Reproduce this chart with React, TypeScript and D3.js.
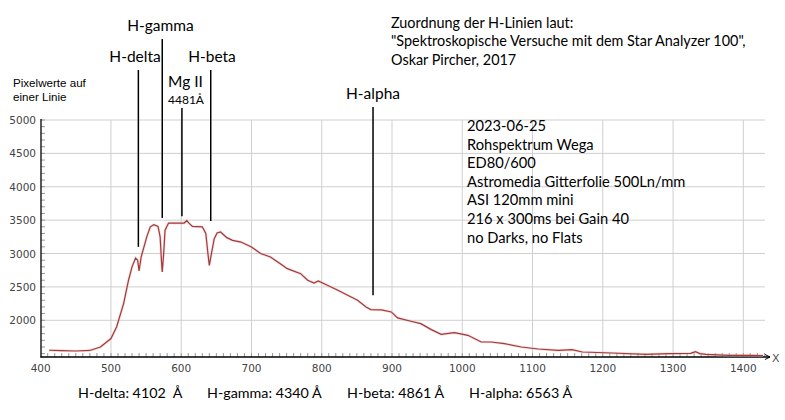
import React from "react";
import * as d3 from "d3";

const waveX = [412, 430, 450, 470, 485, 500, 508, 518, 525, 530, 535, 538, 540, 543, 547, 551, 556, 561, 567, 570, 572, 573, 575, 577, 582, 599, 604, 608, 611, 616, 630, 635, 638, 640, 643, 647, 651, 656, 665, 673, 685, 700, 713, 727, 741, 751, 770, 780, 789, 795, 808, 823, 837, 851, 863, 870, 885, 899, 908, 927, 941, 956, 970, 989, 1008, 1027, 1041, 1060, 1084, 1108, 1137, 1156, 1171, 1213, 1261, 1294, 1325, 1332, 1338, 1347, 1380, 1409, 1428];
const pixelValues = [1551, 1545, 1540, 1548, 1600, 1726, 1900, 2250, 2600, 2800, 2933, 2900, 2740, 2950, 3100, 3250, 3400, 3432, 3407, 3250, 2873, 2723, 3000, 3350, 3456, 3456, 3456, 3492, 3456, 3407, 3400, 3300, 3000, 2823, 3000, 3222, 3307, 3322, 3238, 3198, 3172, 3098, 3000, 2948, 2848, 2773, 2698, 2599, 2558, 2588, 2524, 2449, 2374, 2300, 2200, 2160, 2155, 2125, 2035, 1985, 1950, 1860, 1790, 1815, 1775, 1675, 1675, 1650, 1600, 1570, 1550, 1560, 1525, 1510, 1490, 1500, 1505, 1530, 1500, 1490, 1475, 1475, 1470];

const xTicks = [400, 500, 600, 700, 800, 900, 1000, 1100, 1200, 1300, 1400];
const yTicks = [2000, 2500, 3000, 3500, 4000, 4500, 5000];

const markerNames = ["H-delta", "H-gamma", "Mg II", "H-beta", "H-alpha"];
const markerX = [539, 573, 601, 642, 873];
const markerBottom = [3100, 3531, 3557, 3487, 2374];

const infoLines = ["2023-06-25", "Rohspektrum Wega", "ED80/600", "Astromedia Gitterfolie 500Ln/mm", "ASI 120mm mini", "216 x 300ms bei Gain 40", "no Darks, no Flats"];
const sourceLines = ["Zuordnung der H-Linien laut:", "\"Spektroskopische Versuche mit dem Star Analyzer 100\",", "Oskar Pircher, 2017"];
const bottomLabels = ["H-delta: 4102\u00a0 Å", "H-gamma: 4340 Å", "H-beta: 4861 Å", "H-alpha: 6563 Å"];

export default function App() {
  const x = d3.scaleLinear().domain([400, 1400]).range([40.7, 743.3]);
  const y = d3.scaleLinear().domain([1450, 5000]).range([357, 120]);
  const pts = waveX.map((w, i) => [w, pixelValues[i]] as [number, number]);
  const line = d3.line<[number, number]>().x(d => x(d[0])).y(d => y(d[1]));
  const minorX = d3.range(410, 1440, 10);
  const minorY = d3.range(1500, 5001, 100);
  const calibri = "Lato, Carlito, 'Open Sans', sans-serif";
  const axisFont = "'DejaVu Sans', sans-serif";

  const labelLayout = [
    { top: 70, lx: 135, ly: 62, anchor: "middle" },
    { top: 39, lx: 160.5, ly: 31, anchor: "middle" },
    { top: 108, lx: 168, ly: 87, anchor: "start" },
    { top: 70, lx: 212, ly: 62, anchor: "middle" },
    { top: 107, lx: 373, ly: 99, anchor: "middle" },
  ];
  const bottomX = [78, 207, 347, 469];

  return (
    <svg width={785} height={420} style={{ position: "absolute", left: 0, top: 0, background: "#fff" }}>
      <rect width={785} height={420} fill="#fff" />
      {xTicks.filter(t => t > 400).map(t => (
        <line key={"gx" + t} x1={x(t)} x2={x(t)} y1={120} y2={357} stroke="#cfcfcf" strokeWidth={1} />
      ))}
      {yTicks.map(t => (
        <line key={"gy" + t} x1={41} x2={765} y1={y(t)} y2={y(t)} stroke="#cfcfcf" strokeWidth={1} />
      ))}
      {minorX.map(t => (
        <line key={"mx" + t} x1={x(t)} x2={x(t)} y1={357} y2={353} stroke="#999" strokeWidth={1} />
      ))}
      {minorY.map(t => (
        <line key={"my" + t} x1={41} x2={45} y1={y(t)} y2={y(t)} stroke="#999" strokeWidth={1} />
      ))}
      <line x1={41} x2={41} y1={119} y2={357.5} stroke="#000" strokeWidth={1.3} />
      <line x1={40.5} x2={770} y1={357} y2={357} stroke="#000" strokeWidth={1.3} />
      <polyline points="765,354.5 770,357 765,359.5" fill="none" stroke="#000" strokeWidth={1} />
      <text x={772} y={361.5} fontFamily={axisFont} fontSize={11} fill="#555">X</text>
      {yTicks.map(t => (
        <text key={"yl" + t} x={36} y={y(t) + 4} textAnchor="end" fontFamily={axisFont} fontSize={10.5} fill="#444">{t}</text>
      ))}
      {xTicks.map(t => (
        <text key={"xl" + t} x={x(t)} y={372} textAnchor="middle" fontFamily={axisFont} fontSize={10.5} fill="#444">{t}</text>
      ))}
      <text x={13} y={87} fontFamily="'Liberation Sans', Arial, sans-serif" fontSize={11.6} fill="#000">Pixelwerte auf</text>
      <text x={13} y={101} fontFamily="'Liberation Sans', Arial, sans-serif" fontSize={11.6} fill="#000">einer Linie</text>
      <path d={line(pts) || ""} fill="none" stroke="#f2b8b8" strokeWidth={2.6} strokeOpacity={0.5} />
      <path d={line(pts) || ""} fill="none" stroke="#9e3b3b" strokeWidth={1.2} />
      {markerNames.map((n, i) => (
        <g key={n}>
          <line x1={x(markerX[i])} x2={x(markerX[i])} y1={labelLayout[i].top} y2={y(markerBottom[i])} stroke="#000" strokeWidth={1.5} />
          <text x={labelLayout[i].lx} y={labelLayout[i].ly} textAnchor={labelLayout[i].anchor as any} fontFamily={calibri} fontSize={15.5} fill="#000">{n}</text>
        </g>
      ))}
      <text x={168} y={104} fontFamily={calibri} fontSize={12} fill="#000">4481Å</text>
      {infoLines.map((s, i) => (
        <text key={s} x={467} y={131 + i * 18.6} fontFamily={calibri} fontSize={14.7} fill="#000">{s}</text>
      ))}
      {sourceLines.map((s, i) => (
        <text key={s} x={391} y={28 + i * 18.3} fontFamily={calibri} fontSize={14.4} fill="#000">{s}</text>
      ))}
      {bottomLabels.map((s, i) => (
        <text key={s} x={bottomX[i]} y={398} fontFamily={calibri} fontSize={14.3} fill="#000">{s}</text>
      ))}
    </svg>
  );
}
